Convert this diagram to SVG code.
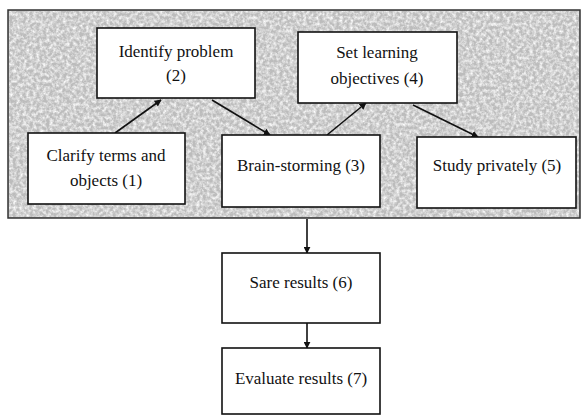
<svg xmlns="http://www.w3.org/2000/svg" width="587" height="416" viewBox="0 0 587 416">
<style>
.box{fill:#fff;stroke:#111;stroke-width:1.6}
.t{font-family:"Liberation Serif","Times New Roman",serif;font-size:17px;fill:#111;text-anchor:middle}
.c{stroke:#111;stroke-width:1.6;fill:none;marker-end:url(#ah)}
</style>
<defs>
<marker id="ah" viewBox="0 0 10 10" refX="9" refY="5" markerWidth="7" markerHeight="7" markerUnits="userSpaceOnUse" orient="auto">
<path d="M0,0 L10,5 L0,10 z" fill="#111"/>
</marker>
<filter id="noise" x="0" y="0" width="100%" height="100%">
<feTurbulence type="fractalNoise" baseFrequency="0.3" numOctaves="3" seed="3" result="n"/>
<feColorMatrix type="matrix" in="n" values="0 0 0 0 1  0 0 0 0 1  0 0 0 0 1  0 0 0 1.8 -0.6" result="w"/>
<feComposite in="w" in2="SourceGraphic" operator="in"/>
</filter>
</defs>
<rect width="587" height="416" fill="#fff"/>
<g id="background">
<rect x="8" y="10" width="572" height="208" fill="#bcbcbc" stroke="#333" stroke-width="1.5"/>
<rect x="9" y="11" width="570" height="206" fill="#bcbcbc" filter="url(#noise)"/>
</g>
<g id="connectors">
<line class="c" x1="115" y1="133" x2="161" y2="100"/>
<line class="c" x1="212" y1="100" x2="270" y2="135"/>
<line class="c" x1="327" y1="135" x2="366" y2="103"/>
<line class="c" x1="413" y1="105" x2="478" y2="137"/>
<line class="c" x1="307" y1="219" x2="307" y2="253"/>
<line class="c" x1="307" y1="323" x2="307" y2="348"/>
</g>
<g id="n1"><rect class="box" x="28" y="133" width="157" height="71"/>
<text class="t" x="106" y="161">Clarify terms and</text><text class="t" x="106" y="186">objects (1)</text></g>
<g id="n2"><rect class="box" x="97" y="28" width="158" height="70"/>
<text class="t" x="176" y="57">Identify problem</text><text class="t" x="176" y="81">(2)</text></g>
<g id="n3"><rect class="box" x="222" y="135" width="158" height="72"/>
<text class="t" x="301" y="171">Brain-storming (3)</text></g>
<g id="n4"><rect class="box" x="298" y="32" width="159" height="71"/>
<text class="t" x="377" y="58">Set learning</text><text class="t" x="377" y="84">objectives (4)</text></g>
<g id="n5"><rect class="box" x="417" y="137" width="159" height="71"/>
<text class="t" x="497" y="171">Study privately (5)</text></g>
<g id="n6"><rect class="box" x="222" y="253" width="158" height="70"/>
<text class="t" x="301" y="288">Sare results (6)</text></g>
<g id="n7"><rect class="box" x="222" y="348" width="158" height="66"/>
<text class="t" x="301" y="384">Evaluate results (7)</text></g>
</svg>
